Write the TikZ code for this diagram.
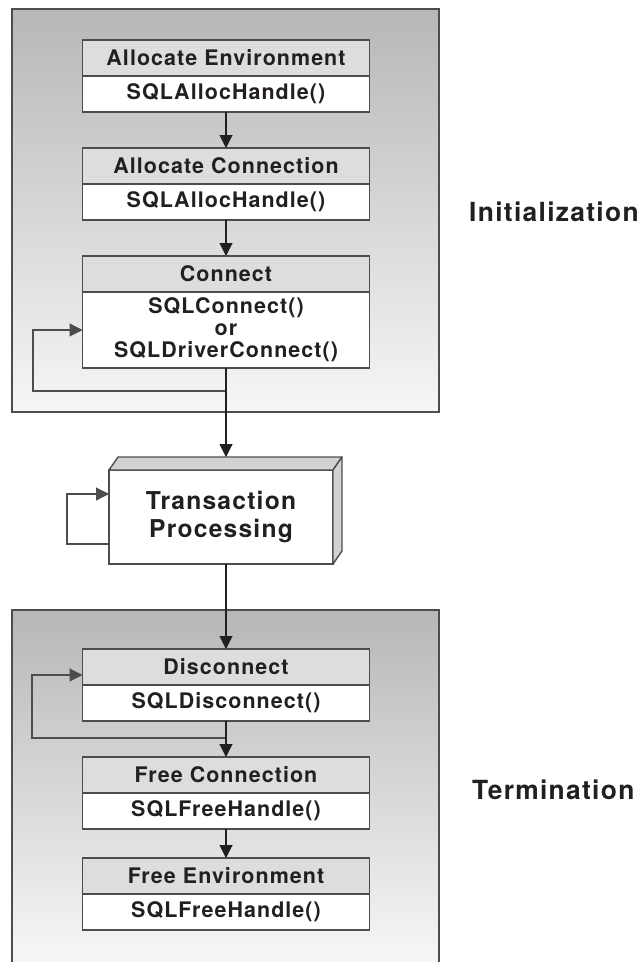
\documentclass[tikz,border=0pt]{standalone}
\usepackage{fontspec}
\setmainfont[LetterSpace=5]{TeX Gyre Heros}
\usepackage{tikz}
\usetikzlibrary{arrows.meta,positioning,calc}
\definecolor{odink}{HTML}{231F20}
\definecolor{odline}{HTML}{4D4D4F}
\definecolor{odgrayhead}{HTML}{DCDDDE}
\definecolor{odtop}{HTML}{B6B7B9}
\definecolor{odbottom}{HTML}{F6F6F6}
\definecolor{odside}{HTML}{D1D2D4}
\tikzset{
  odhead/.style  ={rectangle, draw=odline, fill=odgrayhead, line width=0.8pt,
                   minimum width=5.74cm, minimum height=0.72cm, inner sep=0pt, outer sep=0pt,
                   font=\fontsize{12.2}{12.5}\selectfont\bfseries, text=odink, align=center},
  odbody/.style  ={odhead, fill=white},
  odtrans/.style ={odhead, fill=white, minimum width=4.48cm, minimum height=1.88cm,
                   font=\fontsize{14}{16}\selectfont\bfseries},
  odface/.style  ={draw=odline, fill=odside, line width=0.8pt, line join=round},
  odflow/.style  ={-{Triangle[length=0.26cm,width=0.26cm]}, line width=0.6pt, draw=odink},
  odloop/.style  ={odflow, draw=odline},
  odpanel/.style ={draw=odline, line width=0.8pt, top color=odtop, bottom color=odbottom},
  odphase/.style ={anchor=west, font=\fontsize{15}{18}\selectfont\bfseries, text=odink},
}

\begin{document}
\begin{tikzpicture}[x=0.02cm, y=-0.02cm]
  \useasboundingbox (0,0) rectangle (638,962);
  % panels
  \shade[odpanel] (12,9) rectangle (439,412);
  \shade[odpanel, bottom color=white!98!black] (12,610) rectangle (439,980);
  % initialization
  \node[odhead] (envhead) at (226,58) {Allocate Environment};
  \node[odbody, below=0pt of envhead] (envbody) {SQLAllocHandle()};
  \node[odhead] (conhead) at (226,166) {Allocate Connection};
  \node[odbody, below=0pt of conhead] (conbody) {SQLAllocHandle()};
  \node[odhead] (connhead) at (226,274) {Connect};
  \node[odbody, below=0pt of connhead, minimum height=1.52cm]
       (connbody) {SQLConnect()\\or\\SQLDriverConnect()};
  \draw[odflow] (envbody) -- (conhead);
  \draw[odflow] (conbody) -- (connhead);
  \coordinate (connloop) at (33,391);
  \draw[odloop] (connbody.south |- connloop) -- (connloop) |- (connbody.west);
  \node[odphase] (initlabel) at (463,212) {Initialization};
  % transaction processing
  \node[odtrans] (trans) at (221,517) {Transaction\\Processing};
  \draw[odface] (trans.north west) -- ++(9,-13) -- ($(trans.north east)+(9,-13)$)
       -- (trans.north east) -- cycle;
  \draw[odface] (trans.north east) -- ++(9,-13) -- ($(trans.south east)+(9,-13)$)
       -- (trans.south east) -- cycle;
  \coordinate (transback) at ($(trans.north west)+(9,-13)$);
  \draw[odflow] (connbody.south) -- (connbody.south |- transback);
  \coordinate (transloop) at (67,544);
  \draw[odloop] (trans.west |- transloop) -- (transloop) |- ($(trans.north west)+(0,24)$);
  % termination
  \node[odhead] (discohead) at (226,667) {Disconnect};
  \node[odbody, below=0pt of discohead] (discobody) {SQLDisconnect()};
  \node[odhead] (freeconhead) at (226,775) {Free Connection};
  \node[odbody, below=0pt of freeconhead] (freeconbody) {SQLFreeHandle()};
  \node[odhead] (freeenvhead) at (226,876) {Free Environment};
  \node[odbody, below=0pt of freeenvhead] (freeenvbody) {SQLFreeHandle()};
  \draw[odflow] (discohead.north |- trans.south) -- (discohead.north);
  \coordinate (discoloop) at (32,738);
  \draw[odloop] (discobody.south |- discoloop) -- (discoloop)
       |- ($(discohead.south west)+(0,-10)$);
  \draw[odflow] (discobody) -- (freeconhead);
  \draw[odflow] (freeconbody) -- (freeenvhead);
  \node[odphase] (termlabel) at (466,790) {Termination};
\end{tikzpicture}
\end{document}
